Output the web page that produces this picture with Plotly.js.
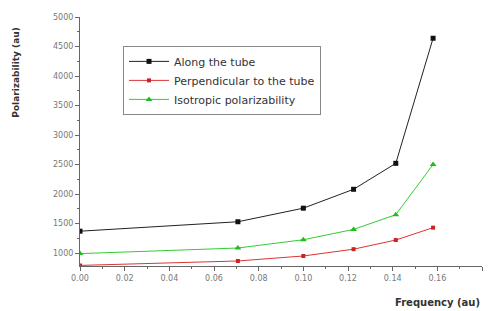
<!DOCTYPE html>
<html><head><meta charset="utf-8">
<script src="https://cdn.plot.ly/plotly-3.0.1.min.js"></script>
<style>body{margin:0;background:#fff}#c{width:488px;height:311px}</style>
</head><body><div id="c"></div>
<script>
const frequency = [0.0, 0.0707, 0.1, 0.1225, 0.1414, 0.1581];
const alongTube = [1370, 1530, 1760, 2080, 2520, 4640];
const perpendicular = [790, 865, 950, 1065, 1220, 1430];
const isotropic = [990, 1085, 1225, 1400, 1650, 2500];
const seriesNames = ["Along the tube", "Perpendicular to the tube", "Isotropic polarizability"];

const traces = [
  {x: frequency, y: alongTube, name: seriesNames[0], mode: "lines+markers",
   line: {color: "#222", width: 1}, marker: {symbol: "square", size: 5, color: "#111"}},
  {x: frequency, y: perpendicular, name: seriesNames[1], mode: "lines+markers",
   line: {color: "#d33", width: 1}, marker: {symbol: "square", size: 4, color: "#c22"}},
  {x: frequency, y: isotropic, name: seriesNames[2], mode: "lines+markers",
   line: {color: "#33cc33", width: 1}, marker: {symbol: "triangle-up", size: 6, color: "#22bb22"}}
];

const layout = {
  width: 488, height: 311,
  margin: {l: 80, r: 6, t: 17, b: 45},
  paper_bgcolor: "#fff", plot_bgcolor: "#fff",
  font: {family: "DejaVu Sans, Arial, sans-serif", color: "#555", size: 7},
  showlegend: true,
  legend: {x: 0.107, y: 0.884, xanchor: "left", yanchor: "top",
    bordercolor: "#888", borderwidth: 1, bgcolor: "#fff",
    font: {size: 11, color: "#333", family: "DejaVu Sans, Arial, sans-serif"},
    tracegroupgap: 0, itemwidth: 40},
  xaxis: {range: [0, 0.18], dtick: 0.02, tickformat: ".2f", showgrid: false, zeroline: false,
    showline: true, linecolor: "#666", linewidth: 1, ticks: "outside", ticklen: 4, tickcolor: "#666",
    minor: {dtick: 0.01, ticks: "outside", ticklen: 2, tickcolor: "#666"},
    tickfont: {size: 8, color: "#777"}},
  yaxis: {range: [780, 5000], tick0: 1000, dtick: 500, showgrid: false, zeroline: false,
    showline: true, linecolor: "#666", linewidth: 1, ticks: "outside", ticklen: 4, tickcolor: "#666",
    minor: {dtick: 250, ticks: "outside", ticklen: 2, tickcolor: "#666"},
    tickfont: {size: 8, color: "#777"}},
  annotations: [
    {text: "<b>Polarizability (au)</b>", xref: "paper", yref: "paper", x: -0.16, y: 0.775,
     xanchor: "center", yanchor: "middle", textangle: -90, showarrow: false,
     font: {size: 9, color: "#333"}},
    {text: "<b>Frequency (au)</b>", xref: "paper", yref: "paper", x: 1, y: -0.145,
     xanchor: "right", yanchor: "middle", showarrow: false,
     font: {size: 10, color: "#333"}}
  ]
};
Plotly.newPlot("c", traces, layout, {displayModeBar: false, staticPlot: true});
</script></body></html>
